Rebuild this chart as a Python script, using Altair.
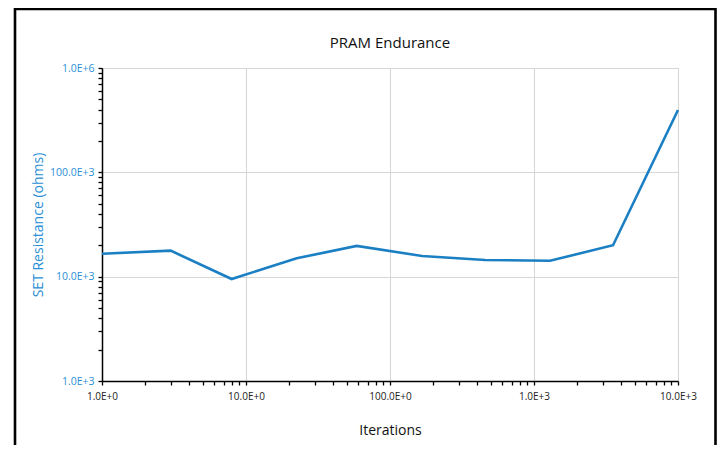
import altair as alt
import pandas as pd

# Data
iterations = [1, 3.0, 7.95, 22.5, 58.7, 167, 457, 1292, 3540, 10000]
resistance = [16600, 17750, 9500, 15000, 19700, 15800, 14450, 14200, 20000, 396000]

title_text = ["PRAM Endurance"]

x_major = [1, 10, 100, 1000, 10000]
x_major_labels = ["1.0E+0", "10.0E+0", "100.0E+0", "1.0E+3", "10.0E+3"]
y_major = [1000, 10000, 100000, 1000000]
y_major_labels = ["1.0E+3", "10.0E+3", "100.0E+3", "1.0E+6"]

x_ticks = [m * 10 ** e for e in range(0, 4) for m in range(1, 10)] + [10000]
y_ticks = [m * 10 ** e for e in range(3, 6) for m in range(1, 10)] + [1000000]


def label_expr(vals, labels):
    s = "''"
    for v, l in reversed(list(zip(vals, labels))):
        s = f"datum.value == {v} ? '{l}' : ({s})"
    return s


MAJOR = "abs(log(datum.value)/LN10 - round(log(datum.value)/LN10)) < 0.001"

df = pd.DataFrame({"Iterations": iterations, "Resistance": resistance})

FONT = "Open Sans"
BLUE_TXT = "#2a8fd6"
LINE = "#1b7fc4"

line = alt.Chart(df).mark_line(color=LINE, strokeWidth=2.6).encode(
    x=alt.X(
        "Iterations:Q",
        scale=alt.Scale(type="log", domain=[1, 10000], nice=False),
        axis=alt.Axis(
            title="Iterations",
            values=x_ticks,
            labelExpr=label_expr(x_major, x_major_labels),
            labelOverlap=False,
            labelFlush=False,
            labelFont=FONT,
            labelFontSize=10,
            labelColor="#222222",
            labelPadding=6,
            titleFont=FONT,
            titleFontSize=14,
            titleFontWeight="normal",
            titleColor="#111111",
            titlePadding=22,
            tickSize=4,
            tickColor="#000000",
            tickWidth=1.3,
            domainColor="#000000",
            domainWidth=1.5,
            grid=True,
            gridColor="#d6d6d6",
            gridWidth=1,
            gridOpacity={"condition": {"test": MAJOR, "value": 1}, "value": 0},
        ),
    ),
    y=alt.Y(
        "Resistance:Q",
        scale=alt.Scale(type="log", domain=[1000, 1000000], nice=False),
        axis=alt.Axis(
            title="SET Resistance (ohms)",
            values=y_ticks,
            labelExpr=label_expr(y_major, y_major_labels),
            labelOverlap=False,
            labelFlush=False,
            labelFont=FONT,
            labelFontSize=10.5,
            labelColor=BLUE_TXT,
            labelPadding=4,
            titleFont=FONT,
            titleFontSize=14,
            titleFontWeight="normal",
            titleColor=BLUE_TXT,
            titlePadding=4,
            tickSize=4,
            tickColor="#000000",
            tickWidth=1.3,
            domainColor="#000000",
            domainWidth=1.5,
            grid=True,
            gridColor="#d6d6d6",
            gridWidth=1,
            gridOpacity={"condition": {"test": MAJOR, "value": 1}, "value": 0},
        ),
    ),
)

frame = alt.Chart(pd.DataFrame({"a": [0]})).mark_rect(
    fill="white", fillOpacity=0, stroke="#000000", strokeWidth=2.6
).encode(
    x=alt.value(-87), x2=alt.value(613.5), y=alt.value(-59), y2=alt.value(420)
)

title = alt.Chart(pd.DataFrame({"t": title_text})).mark_text(
    font=FONT, fontSize=15, color="#111111", align="center", baseline="alphabetic"
).encode(text="t:N", x=alt.value(288), y=alt.value(-20))

chart = alt.layer(frame, line, title).properties(
    width=576,
    height=313,
    autosize=alt.AutoSizeParams(type="none"),
    padding={"left": 94, "top": 60, "right": 39, "bottom": 64},
).configure_view(stroke=None).configure(background="white")

chart.save("out.html", embed_options={"renderer": "svg", "actions": False})
